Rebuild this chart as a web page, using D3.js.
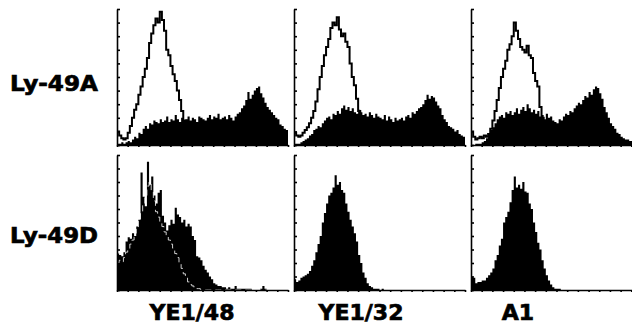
<!DOCTYPE html>
<html><head><meta charset="utf-8">
<script src="https://cdn.jsdelivr.net/npm/d3@7"></script>
<style>body{margin:0;background:#fff}svg{display:block}</style>
</head><body>
<svg id="c" width="632" height="332"></svg>
<script>
const rowLabels = ["Ly-49A", "Ly-49D"];
const colLabels = ["YE1/48", "YE1/32", "A1"];

// Ly-49A row: control (open) histograms
const ctrlA_YE148 = [10,7,5,4,5,9,14,20,26,30, 37,43,50,56,64,75,82,88,93,90, 98,92,84,70,66,58,52,47,40,33, 25,18,15,13,10,8,6,5,4,3, 3,2,2,2,2,1,1,1,1,1, 1,1,1,1,1,1,0,0,0,0, 0,0,0,0,0,0,0,0,0,0, 0,0,0,0,0,0,0,0,0,0];
const ctrlA_YE132 = [9,7,6,7,9,11,13,16,20,25, 32,41,50,58,66,72,78,86,90,88, 94,85,80,82,76,72,60,50,44,34, 25,16,10,7,5,4,3,3,2,2, 2,1,1,1,1,1,1,1,0,0, 0,0,0,0,0,0,0,0,0,0, 0,0,0,0,0,0,0,0,0,0, 0,0,0,0,0,0,0,0,0,0];
const ctrlA_A1 = [10,6,4,5,6,5,7,6,8,12, 18,25,33,42,50,56,62,70,74,80, 90,84,78,72,70,68,73,66,64,53, 47,43,28,20,14,10,7,5,4,3, 3,2,2,2,1,1,1,1,1,0, 0,0,0,0,0,0,0,0,0,0, 0,0,0,0,0,0,0,0,0,0, 0,0,0,0,0,0,0,0,0,0];
// Ly-49A row: stained (filled) histograms
const stainA_YE148 = [1,1,2,1,2,3,2,4,6,5, 9,8,12,14,12,16,15,18,17,16, 19,17,18,21,17,19,18,22,19,17, 20,18,19,21,18,20,19,17,21,20, 19,18,20,22,19,21,20,23,19,20, 21,19,22,20,18,21,23,24,27,29, 33,39,34,37,40,42,43,38,35,31, 28,26,24,22,20,19,15,14,12,11];
const stainA_YE132 = [1,1,1,2,3,4,5,7,8,11, 12,14,13,16,18,20,21,19,23,22, 25,23,27,29,26,28,25,27,24,23, 26,24,22,23,21,24,22,20,23,21, 20,19,22,18,21,19,17,20,18,19, 20,18,21,22,20,24,23,25,27,28, 30,33,37,34,36,35,32,29,27,22, 19,17,14,13,12,10,11,8,7,6];
const stainA_A1 = [0,0,1,1,1,2,3,5,8,11, 13,16,19,21,22,20,24,23,25,22, 24,27,23,26,28,25,30,27,24,26, 23,25,21,22,19,23,20,21,18,17, 16,19,18,21,23,22,25,24,27,29, 31,30,33,36,35,39,37,41,43,42, 38,34,28,24,20,16,14,12,9,8, 6,5,4,4,3,3,2,2,1,1];
// Ly-49D row
const ctrlD_YE148 = [20,22,21,24,28,30,34,37,42,46, 52,57,63,70,77,80,74,66,58,54, 50,47,43,40,37,34,31,27,24,20, 16,12,9,6,4,3,2,1,1,0, 0,0,0,0,0,0,0,0,0,0, 0,0,0,0,0,0,0,0,0,0, 0,0,0,0,0,0,0,0,0,0, 0,0,0,0,0,0,0,0,0,0];
const stainD_YE148 = [27,26,25,28,36,39,38,42,40,47, 52,87,69,62,95,78,84,70,64,72, 74,55,50,44,48,52,49,61,56,54, 50,52,47,49,47,40,37,25,24,22, 18,15,13,10,8,5,4,3,3,2, 2,1,2,1,1,3,1,1,1,1, 1,1,1,0,0,0,0,1,3,1, 0,0,0,0,0,0,0,0,0,0];
const stainD_YE132 = [8,6,7,9,10,11,12,14,18,22, 28,34,40,50,57,64,70,72,76,85, 78,80,74,72,64,58,52,47,42,36, 26,20,13,9,5,3,2,1,1,1, 0,1,0,0,0,0,0,0,0,0, 0,0,0,0,0,0,0,0,0,0, 0,0,0,0,0,0,0,0,0,0, 0,0,0,0,0,0,0,0,0,0];
const stainD_A1 = [10,9,5,6,6,7,7,9,11,13, 16,22,26,33,38,50,54,58,65,74, 84,76,78,75,80,73,72,64,60,50, 43,35,30,22,16,11,7,4,2,1, 1,1,0,0,0,0,0,0,0,0, 0,0,0,0,0,0,0,0,0,0, 0,0,0,0,0,0,0,0,0,0, 0,0,0,0,0,0,0,0,0,0];

const panels = [
  {row:0, col:0, fill:stainA_YE148, open:ctrlA_YE148, openColor:"#000"},
  {row:0, col:1, fill:stainA_YE132, open:ctrlA_YE132, openColor:"#000"},
  {row:0, col:2, fill:stainA_A1, open:ctrlA_A1, openColor:"#000"},
  {row:1, col:0, fill:stainD_YE148, open:ctrlD_YE148, openColor:"#fff"},
  {row:1, col:1, fill:stainD_YE132, open:null},
  {row:1, col:2, fill:stainD_A1, open:null}
];

const svg = d3.select("#c");
const colX = [117, 294, 471], panelW = 171;
const rowY = [[9,145],[155,290]];
const nb = 80;

panels.forEach(p => {
  const x0 = colX[p.col], [yt, yb] = rowY[p.row];
  const x = d3.scaleLinear().domain([0, nb]).range([x0, x0 + panelW]);
  const y = d3.scaleLinear().domain([0, 100]).range([yb, yt]);
  const g = svg.append("g");
  const pts = d => d.map((v,i)=>[i,v]).concat([[nb, d[nb-1]]]);
  const area = d3.area().x(d=>x(d[0])).y0(yb).y1(d=>y(d[1])).curve(d3.curveStepAfter);
  const line = d3.line().x(d=>x(d[0])).y(d=>y(d[1])).curve(d3.curveStepAfter);
  g.append("path").datum(pts(p.fill)).attr("d", area).attr("fill","#000");
  if (p.open) {
    const white = p.openColor === "#fff";
    g.append("path").datum(pts(p.open)).attr("d", line).attr("fill","none")
     .attr("stroke", p.openColor).attr("stroke-width", white ? 0.8 : 2)
     .attr("stroke-dasharray", white ? "6,4" : null);
  }
  g.append("g").attr("transform", `translate(${x0},0)`)
   .call(d3.axisLeft(y).ticks(10).tickSize(-3).tickSizeOuter(0).tickFormat(""))
   .call(a => a.selectAll("path,line").attr("stroke","#000").attr("stroke-width",1.6));
  g.append("g").attr("transform", `translate(0,${yb})`)
   .call(d3.axisBottom(x).ticks(24).tickSize(2).tickSizeOuter(0).tickFormat(""))
   .call(a => a.selectAll("path,line").attr("stroke","#000").attr("stroke-width",1.6));
});

const font = "'DejaVu Sans', sans-serif";
svg.selectAll("text.row").data(rowLabels).join("text")
  .attr("x", 10).attr("y", (d,i)=>[91, 243][i])
  .attr("font-family", font).attr("font-weight","bold").attr("font-size", 22)
  .attr("stroke","#000").attr("stroke-width",0.7)
  .attr("textLength", 88).attr("lengthAdjust","spacingAndGlyphs")
  .text(d=>d);
svg.selectAll("text.col").data(colLabels).join("text")
  .attr("x", (d,i)=>[192, 361, 518][i]).attr("y", 320)
  .attr("text-anchor","middle")
  .attr("font-family", font).attr("font-weight","bold").attr("font-size", 22)
  .attr("stroke","#000").attr("stroke-width",0.7)
  .text(d=>d);
</script>
</body></html>
